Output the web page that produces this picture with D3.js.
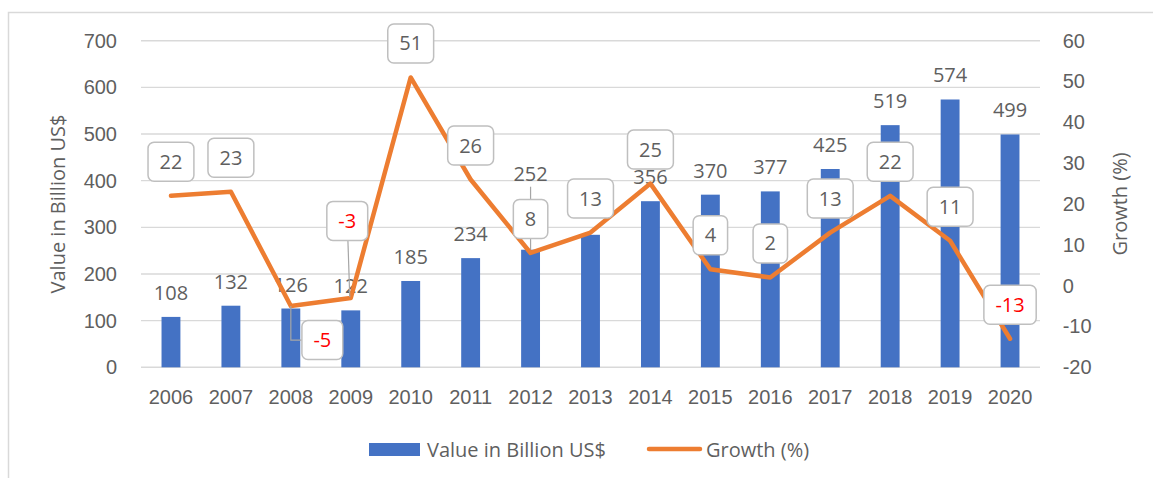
<!DOCTYPE html>
<html>
<head>
<meta charset="utf-8">
<script src="https://cdn.jsdelivr.net/npm/d3@7"></script>
<style>
  html, body { margin: 0; padding: 0; background: #fff; }
  svg { display: block; font-family: "Open Sans", "Noto Sans", sans-serif; }
  .tick line { display: none; }
  .domain { display: none; }
</style>
</head>
<body>
<svg id="chart" width="1153" height="478"></svg>
<script>
  // chart data
  const years = ["2006", "2007", "2008", "2009", "2010", "2011", "2012", "2013",
    "2014", "2015", "2016", "2017", "2018", "2019", "2020"];
  const values = [108, 132, 126, 122, 185, 234, 252, 284, 356, 370, 377, 425, 519, 574, 499];
  const growth = [22, 23, -5, -3, 51, 26, 8, 13, 25, 4, 2, 13, 22, 11, -13];
  const valueTicks = [0, 100, 200, 300, 400, 500, 600, 700];
  const growthTicks = [-20, -10, 0, 10, 20, 30, 40, 50, 60];
  const seriesNames = ["Value in Billion US$", "Growth (%)"];

  const blue = "#4472c4";
  const orange = "#ed7d31";
  const textGrey = "#5f5f5f";
  const gridGrey = "#d9d9d9";
  const fontSize = 20;

  const svg = d3.select("#chart");
  const plot = { left: 141, right: 1040, top: 40.7, bottom: 367.3 };

  // outer frame
  svg.append("path")
    .attr("d", `M8.5,478 V12.5 H1153`)
    .attr("fill", "none")
    .attr("stroke", gridGrey)
    .attr("stroke-width", 1.5);

  const x = d3.scaleBand().domain(years).range([plot.left, plot.right]).padding(0);
  const y = d3.scaleLinear().domain([0, 700]).range([plot.bottom, plot.top]);
  const y2 = d3.scaleLinear().domain([-20, 60]).range([plot.bottom, plot.top]);
  const cx = (yr) => x(yr) + x.bandwidth() / 2;
  const barW = x.bandwidth() * 0.315;
  const plain = (d) => String(d); // keep ASCII hyphen for negatives, like the original

  // gridlines
  svg.append("g")
    .selectAll("line")
    .data(valueTicks)
    .join("line")
    .attr("x1", plot.left)
    .attr("x2", plot.right)
    .attr("y1", (d) => y(d))
    .attr("y2", (d) => y(d))
    .attr("stroke", gridGrey)
    .attr("stroke-width", 1.4);

  // left axis
  const yAxis = svg.append("g")
    .attr("transform", `translate(${plot.left},0)`)
    .call(d3.axisLeft(y).tickValues(valueTicks).tickFormat(plain).tickSize(0).tickPadding(24));
  yAxis.selectAll("text")
    .attr("font-size", fontSize)
    .attr("font-family", null)
    .attr("fill", textGrey);

  // right axis
  const y2Axis = svg.append("g")
    .attr("transform", `translate(${plot.right},0)`)
    .call(d3.axisRight(y2).tickValues(growthTicks).tickFormat(plain).tickSize(0).tickPadding(22.7));
  y2Axis.selectAll("text")
    .attr("font-size", fontSize)
    .attr("font-family", null)
    .attr("fill", textGrey);

  // bottom axis
  const xAxis = svg.append("g")
    .attr("transform", `translate(0,${plot.bottom})`)
    .call(d3.axisBottom(x).tickSize(0));
  xAxis.selectAll("text")
    .attr("y", 30)
    .attr("dy", "0.35em")
    .attr("font-size", fontSize)
    .attr("font-family", null)
    .attr("fill", textGrey);

  // axis titles
  svg.append("text")
    .attr("transform", `translate(58,${(plot.top + plot.bottom) / 2}) rotate(-90)`)
    .attr("text-anchor", "middle")
    .attr("dy", "0.35em")
    .attr("font-size", fontSize)
    .attr("fill", textGrey)
    .text(seriesNames[0]);
  svg.append("text")
    .attr("transform", `translate(1120,${(plot.top + plot.bottom) / 2}) rotate(-90)`)
    .attr("text-anchor", "middle")
    .attr("dy", "0.35em")
    .attr("font-size", fontSize)
    .attr("fill", textGrey)
    .text(seriesNames[1]);

  const rows = years.map((yr, i) => ({ yr, value: values[i], growth: growth[i] }));

  // bars
  svg.append("g")
    .selectAll("rect")
    .data(rows)
    .join("rect")
    .attr("x", (d) => cx(d.yr) - barW / 2)
    .attr("y", (d) => y(d.value))
    .attr("width", barW)
    .attr("height", (d) => y(0) - y(d.value))
    .attr("fill", blue);

  // bar value labels (2012 label was dragged up, with a leader line;
  // the 2013 one sits fully under the growth callout so it is not drawn)
  const barLabelLift = { "2012": 76 };
  const hiddenBarLabels = new Set(["2013"]);
  svg.append("g")
    .selectAll("line")
    .data(rows.filter((d) => barLabelLift[d.yr]))
    .join("line")
    .attr("x1", (d) => cx(d.yr))
    .attr("x2", (d) => cx(d.yr))
    .attr("y1", (d) => y(d.value) - barLabelLift[d.yr] + 13)
    .attr("y2", (d) => y(d.value))
    .attr("stroke", "#a6a6a6")
    .attr("stroke-width", 1.2);
  svg.append("g")
    .selectAll("text")
    .data(rows.filter((d) => !hiddenBarLabels.has(d.yr)))
    .join("text")
    .attr("x", (d) => cx(d.yr))
    .attr("y", (d) => y(d.value) - (barLabelLift[d.yr] || 24))
    .attr("dy", "0.35em")
    .attr("text-anchor", "middle")
    .attr("font-size", fontSize)
    .attr("fill", textGrey)
    .text((d) => d.value);

  // growth line
  svg.append("path")
    .datum(rows)
    .attr("fill", "none")
    .attr("stroke", orange)
    .attr("stroke-width", 4.5)
    .attr("stroke-linejoin", "round")
    .attr("stroke-linecap", "round")
    .attr("d", d3.line().x((d) => cx(d.yr)).y((d) => y2(d.growth)));

  // growth callouts: default sits 34px above the point
  const calloutShift = { "2008": [31.5, 34], "2009": [-3.5, -77] };
  const callouts = svg.append("g");
  rows.forEach((d) => {
    const px = cx(d.yr);
    const py = y2(d.growth);
    const [dx, dy] = calloutShift[d.yr] || [0, -34];
    const bx = px + dx;
    const by = py + dy;
    const g = callouts.append("g");
    if (d.yr === "2008") {
      g.append("path")
        .attr("d", `M${px},${py} V${by} H${bx}`)
        .attr("fill", "none")
        .attr("stroke", "#a6a6a6")
        .attr("stroke-width", 1.2);
    } else if (d.yr === "2009") {
      g.append("line")
        .attr("x1", bx).attr("y1", by)
        .attr("x2", px - 1).attr("y2", py - 1)
        .attr("stroke", "#a6a6a6")
        .attr("stroke-width", 1.2);
    }
    const t = g.append("text")
      .attr("x", bx)
      .attr("y", by)
      .attr("dy", "0.35em")
      .attr("text-anchor", "middle")
      .attr("font-size", fontSize)
      .attr("fill", d.growth < 0 ? "#ff0000" : textGrey)
      .text(plain(d.growth));
    const w = t.node().getComputedTextLength() + 23;
    g.insert("rect", "text")
      .attr("x", bx - w / 2)
      .attr("y", by - 19.5)
      .attr("width", w)
      .attr("height", 39)
      .attr("rx", 6)
      .attr("fill", "#fff")
      .attr("stroke", "#bfbfbf")
      .attr("stroke-width", 1.5);
  });

  // legend
  const legend = svg.append("g");
  legend.append("rect")
    .attr("x", 369).attr("y", 443)
    .attr("width", 51).attr("height", 13)
    .attr("fill", blue);
  legend.append("text")
    .attr("x", 427).attr("y", 449.5)
    .attr("dy", "0.35em")
    .attr("font-size", fontSize)
    .attr("fill", textGrey)
    .text(seriesNames[0]);
  legend.append("line")
    .attr("x1", 649).attr("x2", 700)
    .attr("y1", 449).attr("y2", 449)
    .attr("stroke", orange)
    .attr("stroke-width", 4.5)
    .attr("stroke-linecap", "round");
  legend.append("text")
    .attr("x", 706).attr("y", 449.5)
    .attr("dy", "0.35em")
    .attr("font-size", fontSize)
    .attr("fill", textGrey)
    .text(seriesNames[1]);
</script>
</body>
</html>
